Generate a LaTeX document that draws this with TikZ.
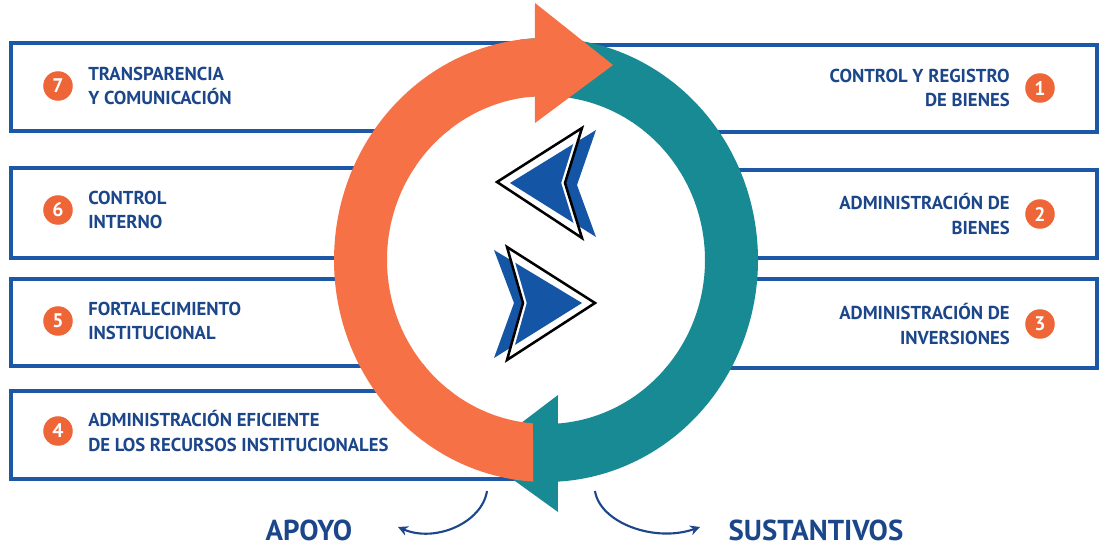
\documentclass[tikz,border=0pt]{standalone}
\usepackage{fontspec}
\setmainfont{PT Sans}
\usetikzlibrary{calc,arrows.meta}

\definecolor{boxblue}{RGB}{28,88,165}
\definecolor{txtblue}{RGB}{28,70,138}
\definecolor{ringorange}{RGB}{246,114,70}
\definecolor{numorange}{RGB}{238,102,56}
\definecolor{ringteal}{RGB}{24,138,148}
\definecolor{chevblue}{RGB}{20,86,165}

\tikzset{
  boxline/.style={draw=boxblue, line width=2.2pt},
  numdot/.style={circle, fill=numorange, text=white, minimum size=21pt, inner sep=0pt,
    font=\fontsize{14}{14}\selectfont\bfseries},
  itemtext/.style={text=txtblue, inner sep=0pt, font=\fontsize{13.3}{17.7}\selectfont\bfseries},
  grouplabel/.style={text=txtblue, inner sep=0pt, font=\fontsize{20.5}{24}\selectfont\bfseries},
  bendarrow/.style={draw=txtblue, line width=1.5pt, -{Stealth[length=7pt,width=7pt]}},
}

% outline points #1-#4 (tip, back, notch, back), blue points #5-#8
\newcommand{\chevron}[8]{%
  \fill[chevblue] #5 -- #6 -- #7 -- #8 -- cycle;
  \begin{scope}
    \clip #1 -- #2 -- #3 -- #4 -- cycle;
    \draw[white, line width=5pt] #1 -- #2 -- #3 -- #4 -- cycle;
  \end{scope}
  \draw[black, line width=1.8pt] #1 -- #2 -- #3 -- #4 -- cycle;}

\begin{document}
\begin{tikzpicture}[x=0.025cm, y=0.025cm]
  \useasboundingbox (0,0) rectangle (1100,547);
  % boxes, left 7..4 and right 1..3
  \foreach \t/\b in {504/416, 379/289, 268/181, 156/68} {\draw[boxline] (11,\t) rectangle (546,\b);}
  \foreach \t/\b in {502/415, 377/289, 268/179} {\draw[boxline] (546,\t) rectangle (1097,\b);}

  % ring
  \coordinate (c) at (546,287);
  \fill[white] (c) ellipse [x radius=159, y radius=164];
  \fill[ringteal] ($(c)+(97:212 and 222)$) arc[start angle=97, end angle=-86.8, x radius=212, y radius=222]
    -- (558,35) -- (479,92) -- (558,152) -- ($(c)+(-85.7:159 and 164)$)
    arc[start angle=-85.7, end angle=97, x radius=159, y radius=164] -- cycle;
  \fill[ringorange] ($(c)+(266.5:212 and 222)$) arc[start angle=266.5, end angle=93, x radius=212, y radius=222]
    -- (535,544) -- (613,482) -- (535,424) -- ($(c)+(94:159 and 164)$)
    arc[start angle=94, end angle=265.3, x radius=159, y radius=164] -- cycle;

  % chevrons
  \chevron{(497,365)}{(582,419)}{(565,364)}{(582,309)}{(510,364)}{(596,417)}{(577,362)}{(596,310)}
  \chevron{(595,244)}{(507,300)}{(523,244)}{(507,187)}{(582,244)}{(494,297)}{(514,244)}{(494,189)}

  % items
  \foreach \n/\y/\t in {7/461/{TRANSPARENCIA\\Y COMUNICACIÓN}, 6/337/{CONTROL\\INTERNO},
      5/226/{FORTALECIMIENTO\\INSTITUCIONAL}, 4/116/{ADMINISTRACIÓN EFICIENTE\\DE LOS RECURSOS INSTITUCIONALES}}
  {\node[numdot] (n\n) at (58,\y) {\n};
   \node[itemtext, align=left, anchor=west] (t\n) at (88,\y) {\t};}
  \foreach \n/\y/\t in {1/459/{CONTROL Y REGISTRO\\DE BIENES}, 2/333/{ADMINISTRACIÓN DE\\BIENES},
      3/223/{ADMINISTRACIÓN DE\\INVERSIONES}}
  {\node[numdot] (n\n) at (1040,\y) {\n};
   \node[itemtext, align=right, anchor=east] (t\n) at (1010,\y) {\t};}

  % groups
  \node[grouplabel] (apoyo) at (309,17) {APOYO};
  \node[grouplabel] (sust) at (816,17) {SUSTANTIVOS};
  \coordinate (a0) at (487,56); \coordinate (a1) at (398,20);
  \coordinate (s0) at (595,56); \coordinate (s1) at (700,20);
  \draw[bendarrow] (a0) .. controls (482,24) and (435,4) .. (a1);
  \draw[bendarrow] (s0) .. controls (600,24) and (655,4) .. (s1);
\end{tikzpicture}
\end{document}
